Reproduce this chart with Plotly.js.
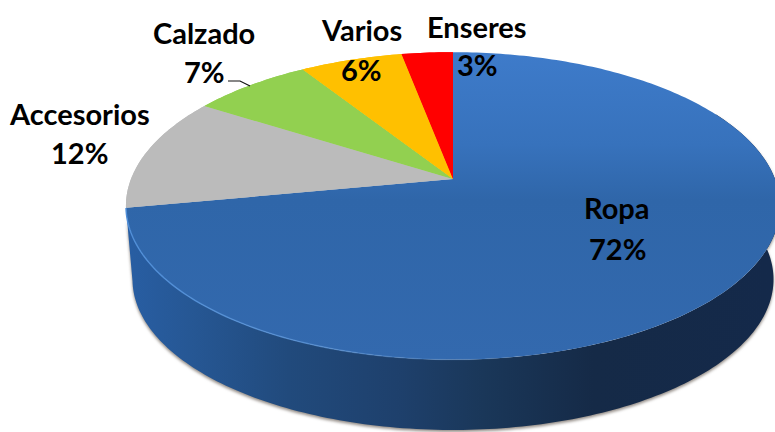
<!DOCTYPE html>
<html><head><meta charset="utf-8">
<script src="https://cdn.plot.ly/plotly-3.0.1.min.js"></script>
<style>html,body{margin:0;padding:0;background:#fff;overflow:hidden}#c{width:775px;height:432px}</style>
</head><body><div id="c"></div>
<script>
const categories = ["Ropa","Accesorios","Calzado","Varios","Enseres"];
const values = [72,12,7,6,3];
const percentLabels = ["72%","12%","7%","6%","3%"];
const sliceColors = ["#3269ad","#bbbbbb","#92d050","#ffc000","#ff0000"];
const nameCenters = [[617,208],[79,113],[204,33],[361,29],[477,26]];
const percentCenters = [[617,248],[79,152],[204,72],[361,69],[477,64]];
const W=775,H=432;
const apex=[453,179], Ax=322, Ay=149, K=0.175;
const px=x=>x/W, py=y=>1-y/H;
const FONT='Lato, "Open Sans", sans-serif';
const annos=[];
categories.forEach((c,i)=>{
  annos.push({text:'<b>'+c+'</b>',xref:'paper',yref:'paper',x:px(nameCenters[i][0]),y:py(nameCenters[i][1]),showarrow:false,xanchor:'center',yanchor:'middle',font:{family:FONT,size:29,color:'#000'}});
  annos.push({text:'<b>'+percentLabels[i]+'</b>',xref:'paper',yref:'paper',x:px(percentCenters[i][0]),y:py(percentCenters[i][1]),showarrow:false,xanchor:'center',yanchor:'middle',font:{family:FONT,size:29,color:'#000'}});
});
const pieBase={type:'pie',labels:categories,values:values,sort:false,direction:'clockwise',rotation:0,textinfo:'none',hoverinfo:'none',showlegend:false,domain:{x:[0.2,0.8],y:[0.1,0.9]}};
const data=[
 Object.assign({},pieBase,{name:'lateral',marker:{colors:sliceColors,line:{width:0}}}),
 Object.assign({},pieBase,{name:'superficie',marker:{colors:sliceColors,line:{width:0}}})
];
const layout={width:W,height:H,margin:{l:0,r:0,t:0,b:0},paper_bgcolor:'#fff',showlegend:false,annotations:annos,
 shapes:[{type:'path',xref:'paper',yref:'paper',path:`M ${px(228)} ${py(81)} L ${px(240)} ${py(81)} L ${px(250)} ${py(86)}`,line:{color:'#111',width:1.2}}]};

function proj(deg,scale,dy){ // clockwise degrees from top on the tilted disc
  const t=deg*Math.PI/180,u=Math.sin(t),v=Math.cos(t),w=1+K*v;
  return [apex[0]+scale*Ax*u/w, apex[1]-scale*Ay*v/w+dy];
}
function arc(a,b,scale,dy){const n=Math.max(2,Math.ceil(Math.abs(b-a)));const o=[];for(let i=0;i<=n;i++)o.push(proj(a+(b-a)*i/n,scale,dy));return o;}
const toD=p=>'M'+p.map(q=>q[0].toFixed(2)+','+q[1].toFixed(2)).join('L');
function grad(defs,id,x1,y1,x2,y2,stops){
  const NS='http://www.w3.org/2000/svg',g=document.createElementNS(NS,'linearGradient');
  g.setAttribute('id',id);g.setAttribute('gradientUnits','userSpaceOnUse');
  [['x1',x1],['y1',y1],['x2',x2],['y2',y2]].forEach(a=>g.setAttribute(a[0],a[1]));
  stops.forEach(s=>{const e=document.createElementNS(NS,'stop');e.setAttribute('offset',s[0]);e.setAttribute('stop-color',s[1]);if(s[2]!==undefined)e.setAttribute('stop-opacity',s[2]);g.appendChild(e);});
  defs.appendChild(g);
}
const gd=document.getElementById('c');
Plotly.newPlot(gd,data,layout,{staticPlot:true,displayModeBar:false}).then(()=>{
  const svg=gd.querySelector('svg.main-svg');
  let defs=svg.querySelector('defs');
  grad(defs,'gTop',0,52,0,360,[[0,'#3e7bca'],[0.3,'#3772bc'],[0.48,'#2f66a9'],[1,'#3369ae']]);
  grad(defs,'gWall',127,0,775,0,[[0,'#285ea3'],[0.1,'#265794'],[0.25,'#214a7c'],[0.42,'#1e406c'],[0.55,'#1a3759'],[0.72,'#152a47'],[1,'#14294a']]);
  grad(defs,'gRim',127,0,775,0,[[0,'#4f8ed8',1],[0.25,'#5a94d8',0.8],[0.5,'#5a94d8',0.2],[0.65,'#5a94d8',0]]);
  const traces=gd.querySelectorAll('.pielayer .trace');
  const total=values.reduce((a,b)=>a+b,0);
  const angles=[];let acc=0;values.forEach(v=>{angles.push([acc/total*360,(acc+v)/total*360]);acc+=v;});
  const topD=angles.map(a=>toD([apex].concat(arc(a[0],a[1],1,0)))+'Z');
  traces.forEach((tr,ti)=>{
    tr.querySelectorAll('g.slice path.surface').forEach((p,i)=>{
      if(ti===0&&i===0){
        const e=angles[0][1];
        const d=toD(arc(62,e,1,0).concat(arc(e,62,0.98,74)))+'Z';
        p.setAttribute('d',d);p.style.fill='url(#gWall)';
        p.style.filter='drop-shadow(0 2px 1.5px rgba(90,80,70,0.65))';
      } else if(ti===0){
        p.setAttribute('d',topD[i]);
      } else {
        p.setAttribute('d',topD[i]);
        if(i===0)p.style.fill='url(#gTop)';
      }
    });
  });
  const NS='http://www.w3.org/2000/svg';
  const rim=document.createElementNS(NS,'path');
  rim.setAttribute('d',toD(arc(150,angles[0][1],1,0)));
  rim.setAttribute('fill','none');rim.setAttribute('stroke','url(#gRim)');rim.setAttribute('stroke-width','1.4');
  traces[traces.length-1].appendChild(rim);
});
</script></body></html>
